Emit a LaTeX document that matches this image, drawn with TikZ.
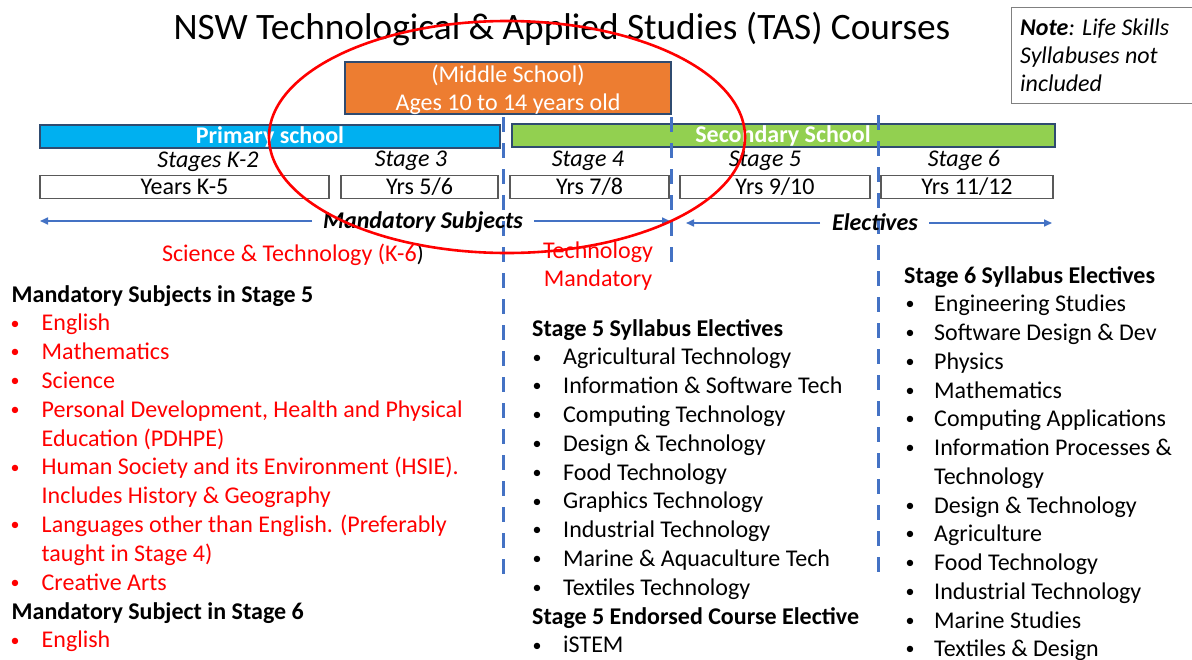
\documentclass[tikz,border=0pt]{standalone}
\usepackage{fontspec}
\setmainfont{Carlito}
\usetikzlibrary{arrows.meta}
\definecolor{tasblue}{HTML}{00B0F0}
\definecolor{tasgreen}{HTML}{92D050}
\definecolor{tasorange}{HTML}{ED7D31}
\definecolor{tasborder}{HTML}{2F4B70}
\definecolor{lineblue}{HTML}{4472C4}
\definecolor{tasred}{HTML}{FF0000}
\definecolor{boxgray}{HTML}{595959}
\newcommand\myBody{\fontsize{24}{28.8}\selectfont}
\newcommand\myTitle{\fontsize{37.3}{45}\selectfont}
\newcommand\myBul{\raisebox{1.8pt}{\fontsize{18}{20}\selectfont •}}
\tikzset{
  txt/.style={anchor=base west, inner sep=0pt, font=\myBody},
  ctxt/.style={anchor=base, inner sep=0pt, font=\myBody},
  bul/.style={anchor=base, inner sep=0pt, font=\myBody},
  bar/.style={draw=tasborder, line width=1.2pt},
  yrbox/.style={draw=boxgray, line width=1.3pt, fill=white},
  divider/.style={draw=lineblue, line width=3pt, dash pattern=on 15pt off 11pt},
  arr/.style={draw=lineblue, line width=1.6pt, -{Triangle[length=8pt,width=7pt]}},
  ring/.style={draw=tasred, line width=2.6pt},
}
\begin{document}
\begin{tikzpicture}[x=1pt,y=-1pt]
\useasboundingbox (0,0) rectangle (1192,659);
\fill[white] (0,0) rectangle (1192,659);

% title
\node[anchor=base, inner sep=0pt, font=\myTitle] (title) at (562,39) {NSW Technological \& Applied Studies (TAS) Courses};

% note box
\draw[draw=gray, line width=1pt, fill=white] (1011,7) rectangle (1200,103);
\node[txt, font=\myBody\itshape] (note1) at (1020,35) {\textbf{Note}: Life Skills};
\node[txt, font=\myBody\itshape] (note2) at (1020,63) {Syllabuses not};
\node[txt, font=\myBody\itshape] (note3) at (1020,91) {included};

% dividers
\coordinate (d1t) at (503,117); \coordinate (d1b) at (503,582);
\coordinate (d2t) at (671,117); \coordinate (d2b) at (671,272);
\coordinate (d3t) at (878,115); \coordinate (d3b) at (878,582);

% middle school box
\draw[bar, fill=tasorange] (345,62) rectangle (671,114);
\node[ctxt, text=white] (ms1) at (508,82) {(Middle School)};
\node[ctxt, text=white] (ms2) at (508,110) {Ages 10 to 14 years old};

% school bars
\draw[bar, fill=tasblue] (40,125) rectangle (500,148);
\node[ctxt, text=white, font=\myBody\bfseries] (prim) at (270,143.5) {Primary school};
\draw[bar, fill=tasgreen] (512,124) rectangle (1055,147);
\node[ctxt, text=white, font=\myBody\bfseries] (sec) at (783,142.5) {Secondary School};

% stages
\node[ctxt, font=\myBody\itshape] (st2) at (208,167) {Stages K-2};
\node[ctxt, font=\myBody\itshape] (st3) at (411,166) {Stage 3};
\node[ctxt, font=\myBody\itshape] (st4) at (588,166) {Stage 4};
\node[ctxt, font=\myBody\itshape] (st5) at (765,166) {Stage 5};
\node[ctxt, font=\myBody\itshape] (st6) at (964,166) {Stage 6};

% year boxes
\draw[yrbox] (40,175.5) rectangle (329,198.5);
\node[ctxt] (y1) at (184.5,194.5) {Years K-5};
\draw[yrbox] (341,175.5) rectangle (498,198.5);
\node[ctxt] (y2) at (419.5,194.5) {Yrs 5/6};
\draw[yrbox] (510,175.5) rectangle (669,198.5);
\node[ctxt] (y3) at (589.5,194.5) {Yrs 7/8};
\draw[yrbox] (680,175.5) rectangle (870,198.5);
\node[ctxt] (y4) at (775,194.5) {Yrs 9/10};
\draw[yrbox] (881,175.5) rectangle (1053,198.5);
\node[ctxt] (y5) at (967,194.5) {Yrs 11/12};

% dividers drawn over boxes
\draw[divider] (d1t) -- (d1b);
\draw[divider] (d2t) -- (d2b);
\draw[divider] (d3t) -- (d3b);

% mandatory / electives arrows
\node[ctxt, font=\myBody\bfseries\itshape] (mand) at (423,228.5) {Mandatory Subjects};
\coordinate (mandLs) at (312,221); \coordinate (mandLe) at (40,221);
\coordinate (mandRs) at (534,221); \coordinate (mandRe) at (670,221);
\draw[arr] (mandLs) -- (mandLe);
\draw[arr] (mandRs) -- (mandRe);
\node[ctxt, font=\myBody\bfseries\itshape] (elec) at (875,230) {Electives};
\coordinate (elLs) at (820,223); \coordinate (elLe) at (686,223);
\coordinate (elRs) at (929,223); \coordinate (elRe) at (1052,223);
\draw[arr] (elLs) -- (elLe);
\draw[arr] (elRs) -- (elRe);

% red notes
\node[ctxt, text=tasred] (scitech) at (293,261) {Science \& Technology (K-6\textcolor{black}{)}};
\node[ctxt, text=tasred] (tech1) at (598,258) {Technology};
\node[ctxt, text=tasred] (tech2) at (598,286.5) {Mandatory};

% left column
\node[txt, font=\myBody\bfseries] (lh1) at (11.5,302) {Mandatory Subjects in Stage 5};
\foreach \t/\b [count=\i] in {English/1, Mathematics/1, Science/1,
   {Personal Development, Health and Physical}/1, {Education (PDHPE)}/0,
   {Human Society and its Environment (HSIE).}/1, {Includes History \& Geography}/0,
   {Languages other than English. (Preferably}/1, {taught in Stage 4)}/0,
   {Creative Arts}/1}{
  \node[txt, text=tasred] (l\i) at (41.5,302+28.83*\i) {\t};
  \ifnum\b=1 \node[bul, text=tasred] (lb\i) at (15,302+28.83*\i) {\myBul};\fi
}
\node[txt, font=\myBody\bfseries] (lh2) at (11.5,302+28.83*11) {Mandatory Subject in Stage 6};
\node[txt, text=tasred] (l12) at (41.5,302+28.83*12) {English};
\node[bul, text=tasred] (lb12) at (15,302+28.83*12) {\myBul};

% middle column
\node[txt, font=\myBody\bfseries] (mh1) at (532,336) {Stage 5 Syllabus Electives};
\foreach \t [count=\i] in {Agricultural Technology, Information \& Software Tech,
   Computing Technology, Design \& Technology, Food Technology,
   Graphics Technology, Industrial Technology, Marine \& Aquaculture Tech,
   Textiles Technology}{
  \node[txt] (m\i) at (563,336+28.8*\i) {\t};
  \node[bul] (mb\i) at (537,336+28.8*\i) {\myBul};
}
\node[txt, font=\myBody\bfseries] (mh2) at (532,336+28.8*10) {Stage 5 Endorsed Course Elective};
\node[txt] (m11) at (563,336+28.8*11) {iSTEM};
\node[bul] (mb11) at (537,336+28.8*11) {\myBul};

% right column
\node[txt, font=\myBody\bfseries] (rh1) at (904,283) {Stage 6 Syllabus Electives};
\foreach \t/\b [count=\i] in {Engineering Studies/1, Software Design \& Dev/1,
   Physics/1, Mathematics/1, Computing Applications/1,
   Information Processes \&/1, Technology/0, Design \& Technology/1,
   Agriculture/1, Food Technology/1, Industrial Technology/1,
   Marine Studies/1, Textiles \& Design/1}{
  \node[txt] (r\i) at (934,283+28.75*\i) {\t};
  \ifnum\b=1 \node[bul] (rb\i) at (910,283+28.75*\i) {\myBul};\fi
}

% red ellipse
\draw[ring] (507,137) ellipse [x radius=238pt, y radius=116pt];
\end{tikzpicture}
\end{document}
